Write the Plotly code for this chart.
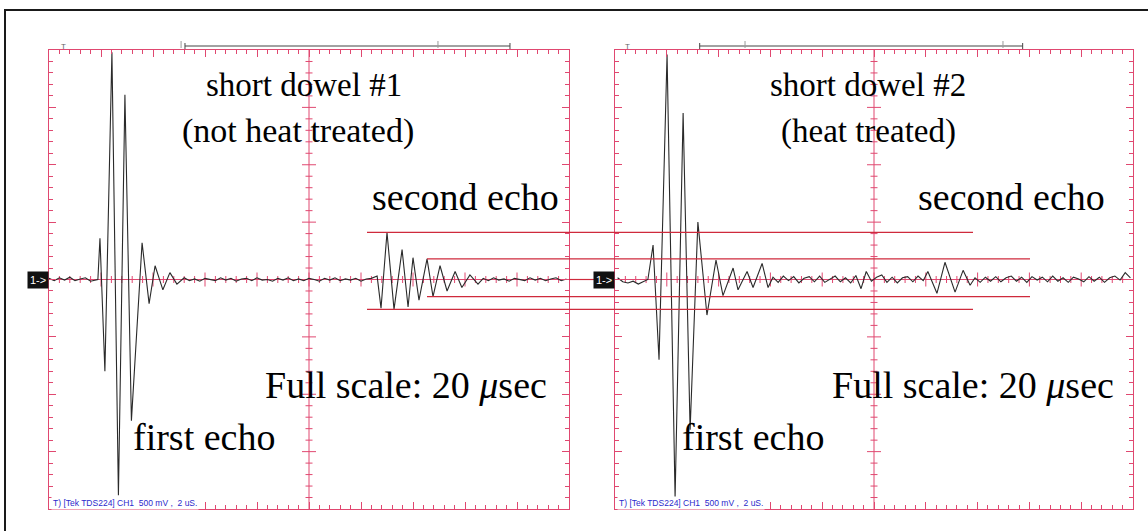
import numpy as np
import plotly.graph_objects as go

W, H = 1148, 531

# ---------------- CH1 traces: time (µs) and amplitude (V) ----------------
# short dowel #1 (not heat treated)
t_dowel1 = [
    0.0, 0.2, 0.4, 0.6, 0.8, 1.0, 1.2, 1.4, 1.6, 1.8,
    1.88, 1.96, 2.15, 2.42, 2.67, 2.92, 3.17, 3.58, 3.85, 4.08, 4.38, 4.65, 4.92,
    5.2, 5.4, 5.6, 5.8, 6.0, 6.2, 6.4, 6.6, 6.8, 7.0, 7.2, 7.4, 7.6, 7.8, 8.0, 8.2,
    8.4, 8.6, 8.8, 9.0, 9.2, 9.4, 9.6, 9.8, 10.0, 10.2, 10.4, 10.6, 10.8, 11.0, 11.2,
    11.4, 11.6, 11.8, 12.0, 12.2, 12.4,
    12.62, 12.77, 13.0, 13.27, 13.58, 13.81, 14.0, 14.23, 14.54, 14.77, 15.04, 15.31,
    15.62, 15.88, 16.19, 16.5,
    16.7, 16.9, 17.1, 17.3, 17.5, 17.7, 17.9, 18.1, 18.3, 18.5, 18.7, 18.9, 19.1,
    19.3, 19.5, 19.7, 19.9,
]
v_dowel1 = [
    0.01, -0.01, 0.015, -0.005, 0.02, -0.01, 0.005, 0.015, -0.015, 0.0,
    0.0, 0.36, -0.80, 1.98, -1.88, 1.61, -1.23, 0.32, -0.21, 0.12, -0.09, 0.06, -0.04,
    0.015, -0.01, 0.005, -0.015, 0.01, 0.0, -0.01, 0.015, -0.005, 0.01, -0.015, 0.005,
    0.01, -0.01, 0.015, -0.005, 0.0, -0.015, 0.01, -0.005, 0.015, -0.01, 0.005, -0.01,
    0.01, 0.0, -0.015, 0.01, -0.005, 0.015, -0.01, 0.005, -0.005, 0.01, -0.015, 0.005, 0.01,
    0.03, -0.25, 0.41, -0.26, 0.26, -0.24, 0.19, -0.18, 0.18, -0.15, 0.12, -0.10,
    0.07, -0.07, 0.04, -0.04,
    0.01, -0.01, 0.015, -0.005, 0.005, -0.015, 0.01, 0.0, -0.01, 0.015, -0.005, 0.01,
    -0.01, 0.005, 0.015, -0.01, 0.005,
]

# short dowel #2 (heat treated)
t_dowel2 = [
    0.1, 0.3, 0.5, 0.7, 0.9, 1.1,
    1.27, 1.47, 1.70, 2.01, 2.32, 2.63, 2.90, 3.20, 3.55, 3.90, 4.17, 4.56, 4.75,
    5.10, 5.33, 5.68, 5.91,
    6.1, 6.3, 6.5, 6.7, 6.9, 7.1, 7.3, 7.5, 7.7, 7.9, 8.1, 8.3, 8.5, 8.7, 8.9, 9.1,
    9.3, 9.5, 9.7, 9.9, 10.1, 10.3, 10.5, 10.7, 10.9, 11.1, 11.3, 11.5, 11.7, 11.9,
    12.08, 12.43, 12.74, 13.13, 13.44, 13.71,
    13.9, 14.1, 14.3, 14.5, 14.7, 14.9, 15.1, 15.3, 15.5, 15.7, 15.9, 16.1, 16.3,
    16.5, 16.7, 16.9, 17.1, 17.3, 17.5, 17.7, 17.9, 18.1, 18.3, 18.5, 18.7, 18.9,
    19.1, 19.3, 19.5, 19.7, 19.9,
]
v_dowel2 = [
    0.015, -0.02, -0.03, -0.015, -0.04, -0.015,
    0.0, 0.30, -0.70, 1.96, -1.90, 1.45, -1.31, 0.50, -0.31, 0.17, -0.14, 0.10, -0.09,
    0.07, -0.07, 0.14, -0.07,
    0.02, -0.025, 0.03, -0.01, 0.025, -0.03, 0.01, 0.025, -0.02, 0.03, -0.025, 0.005,
    0.03, -0.02, 0.015, -0.03, 0.035, -0.08, 0.07, -0.015, 0.02, 0.04, -0.025, 0.02,
    -0.03, 0.015, 0.025, -0.02, 0.03, -0.01,
    0.07, -0.12, 0.15, -0.11, 0.08, -0.05,
    0.015, -0.025, 0.02, -0.015, 0.025, -0.02, 0.015, 0.03, -0.015, 0.02, -0.025, 0.025,
    -0.005, 0.02, -0.02, 0.03, -0.015, 0.015, -0.025, 0.02, 0.005, -0.02, 0.025, -0.015,
    0.02, -0.025, 0.015, 0.03, -0.005, 0.06, 0.015,
]

# amplitude guides (V) carried across both screens
guide_outer = [0.41, -0.26]
guide_inner = [0.18, -0.15]

# scope settings
US_PER_DIV = 2.0
V_PER_DIV = 0.5
X_DIVS, Y_DIVS = 10, 8
T_FULL = US_PER_DIV * X_DIVS
V_HALF = V_PER_DIV * Y_DIVS / 2

# ---------------- page geometry (pixels) ----------------
PANELS = [(49, 569), (615, 1133)]
TOP, BOTTOM = 50, 509
GRID = "#e04870"
GUIDE = "#cf2a3c"
TRACE = "#2a2a2a"


def px(x):
    return x / W


def py(y):
    return 1 - y / H


ydom = [py(BOTTOM), py(TOP)]

fig = go.Figure()

axis_common = dict(
    showline=True, linecolor=GRID, linewidth=1, mirror="ticks",
    ticks="inside", tickcolor=GRID, tickwidth=1,
    showticklabels=False, showgrid=False, fixedrange=True,
)

layout_axes = {}
for i, (x0, x1) in enumerate(PANELS, start=1):
    sx = "" if i == 1 else str(i)
    layout_axes["xaxis" + sx] = dict(
        axis_common, domain=[px(x0), px(x1)], range=[0, T_FULL], anchor="y" + sx,
        tick0=0, dtick=US_PER_DIV, ticklen=7, zeroline=False,
        minor=dict(ticks="inside", ticklen=4, tickcolor=GRID, dtick=US_PER_DIV / 5,
                   tick0=0, showgrid=False),
    )
    layout_axes["yaxis" + sx] = dict(
        axis_common, domain=ydom, range=[-V_HALF, V_HALF], anchor="x" + sx,
        tick0=0, dtick=V_PER_DIV, ticklen=7,
        zeroline=True, zerolinecolor=GRID, zerolinewidth=1,
        minor=dict(ticks="inside", ticklen=4, tickcolor=GRID, dtick=V_PER_DIV / 5,
                   tick0=0, showgrid=False),
    )

# graticule ticks on the centre cross
t_minor = [t for t in np.arange(0, T_FULL + 1e-9, US_PER_DIV / 5)
           if 0 < t < T_FULL and abs(t / US_PER_DIV - round(t / US_PER_DIV)) > 1e-6]
t_major = [t for t in np.arange(US_PER_DIV, T_FULL, US_PER_DIV)]
v_minor = [v for v in np.arange(-V_HALF, V_HALF + 1e-9, V_PER_DIV / 5)
           if -V_HALF < v < V_HALF and abs(v / V_PER_DIV - round(v / V_PER_DIV)) > 1e-6]
v_major = [v for v in np.arange(-V_HALF + V_PER_DIV, V_HALF, V_PER_DIV)]

shapes = []
annotations = []

for i in (1, 2):
    sx = "" if i == 1 else str(i)
    xr, yr = "x" + sx, "y" + sx
    # centre vertical graticule line
    shapes.append(dict(type="line", xref=xr, yref=yr + " domain", x0=T_FULL / 2, x1=T_FULL / 2,
                       y0=0, y1=1, line=dict(color=GRID, width=1), layer="below"))
    for xs, ys, sym, size in [
        (t_minor, [0] * len(t_minor), "line-ns", 5),
        (t_major, [0] * len(t_major), "line-ns", 10),
        ([T_FULL / 2] * len(v_minor), v_minor, "line-ew", 5),
        ([T_FULL / 2] * len(v_major), v_major, "line-ew", 10),
    ]:
        fig.add_trace(go.Scatter(
            x=xs, y=ys, xaxis=xr, yaxis=yr, mode="markers", hoverinfo="skip",
            marker=dict(symbol=sym, size=size, line=dict(color=GRID, width=1)),
            showlegend=False))

# the two captured waveforms
fig.add_trace(go.Scatter(x=t_dowel1, y=v_dowel1, xaxis="x", yaxis="y", mode="lines",
                         line=dict(color=TRACE, width=1.1), showlegend=False))
fig.add_trace(go.Scatter(x=t_dowel2, y=v_dowel2, xaxis="x2", yaxis="y2", mode="lines",
                         line=dict(color=TRACE, width=1.1), showlegend=False))

# amplitude guide lines spanning both screens
for lvl in guide_outer:
    shapes.append(dict(type="line", xref="paper", yref="y", x0=px(367), x1=px(973),
                       y0=lvl, y1=lvl, line=dict(color=GUIDE, width=1.2)))
for lvl in guide_inner:
    shapes.append(dict(type="line", xref="paper", yref="y", x0=px(427), x1=px(1030),
                       y0=lvl, y1=lvl, line=dict(color=GUIDE, width=1.2)))
shapes.append(dict(type="line", xref="paper", yref="y", x0=px(569), x1=px(595),
                   y0=0, y1=0, line=dict(color=GUIDE, width=1.2)))

# record / cursor bar above each screen
top_bars = [
    dict(trig=0.54, bar=(5.23, 17.73), cursors=(5.08, 14.96)),
    dict(trig=0.50, bar=(3.27, 15.74), cursors=(5.02, 14.98)),
]
for i, tb in enumerate(top_bars, start=1):
    xr = "x" if i == 1 else "x2"
    annotations.append(dict(xref=xr, yref="paper", x=tb["trig"], y=py(40), text="T",
                            showarrow=False, font=dict(size=8, color="#666", family="Arial")))
    b0, b1 = tb["bar"]
    shapes.append(dict(type="line", xref=xr, yref="paper", x0=b0, x1=b1, y0=py(46), y1=py(46),
                       line=dict(color="#444", width=1)))
    for b in (b0, b1):
        shapes.append(dict(type="line", xref=xr, yref="paper", x0=b, x1=b, y0=py(43), y1=py(49),
                           line=dict(color="#444", width=1)))
    for c in tb["cursors"]:
        shapes.append(dict(type="line", xref=xr, yref="paper", x0=c, x1=c, y0=py(41), y1=py(48),
                           line=dict(color="#999", width=1)))
    # channel-1 ground marker
    annotations.append(dict(xref=xr + " domain", yref="y" if i == 1 else "y2", x=0, y=0,
                            xanchor="right", yanchor="middle", text="1->", showarrow=False,
                            bgcolor="#111", borderpad=2,
                            font=dict(size=11, color="white", family="Arial")))
    # status line
    annotations.append(dict(xref=xr + " domain", yref="paper", x=0, y=py(503), xanchor="left",
                            xshift=2, yanchor="middle", showarrow=False, bgcolor="white",
                            text="T) [Tek TDS224] CH1  500 mV ,  2 uS.",
                            font=dict(size=8.5, color="#2a2acc", family="Arial")))

# panel captions: text, left edge (px), vertical centre (px), size
SERIF = "Liberation Serif, Times New Roman, serif"
captions = [
    ("short dowel #1", 204, 85, 33),
    ("(not heat treated)", 180, 131, 34),
    ("second echo", 370, 197, 38),
    ("Full scale: 20 <i>μ</i>sec", 263, 385, 38),
    ("first echo", 131, 437, 38),
    ("short dowel #2", 768, 85, 33),
    ("(heat treated)", 779, 131, 33),
    ("second echo", 916, 197, 38),
    ("Full scale: 20 <i>μ</i>sec", 830, 385, 38),
    ("first echo", 680, 437, 38),
]
for text, x, y, size in captions:
    annotations.append(dict(xref="paper", yref="paper", x=px(x), y=py(y), xanchor="left",
                            yanchor="middle", text=text, showarrow=False,
                            font=dict(size=size, color="black", family=SERIF)))

# outer frame
shapes.append(dict(type="rect", xref="paper", yref="paper", x0=px(5), x1=1.05,
                   y0=-0.05, y1=py(10), line=dict(color="#1a1a1a", width=2)))

fig.update_layout(
    width=W, height=H, margin=dict(l=0, r=0, t=0, b=0),
    paper_bgcolor="white", plot_bgcolor="white",
    shapes=shapes, annotations=annotations, showlegend=False,
    **layout_axes,
)

fig.write_html("out.html", config={"displayModeBar": False})
